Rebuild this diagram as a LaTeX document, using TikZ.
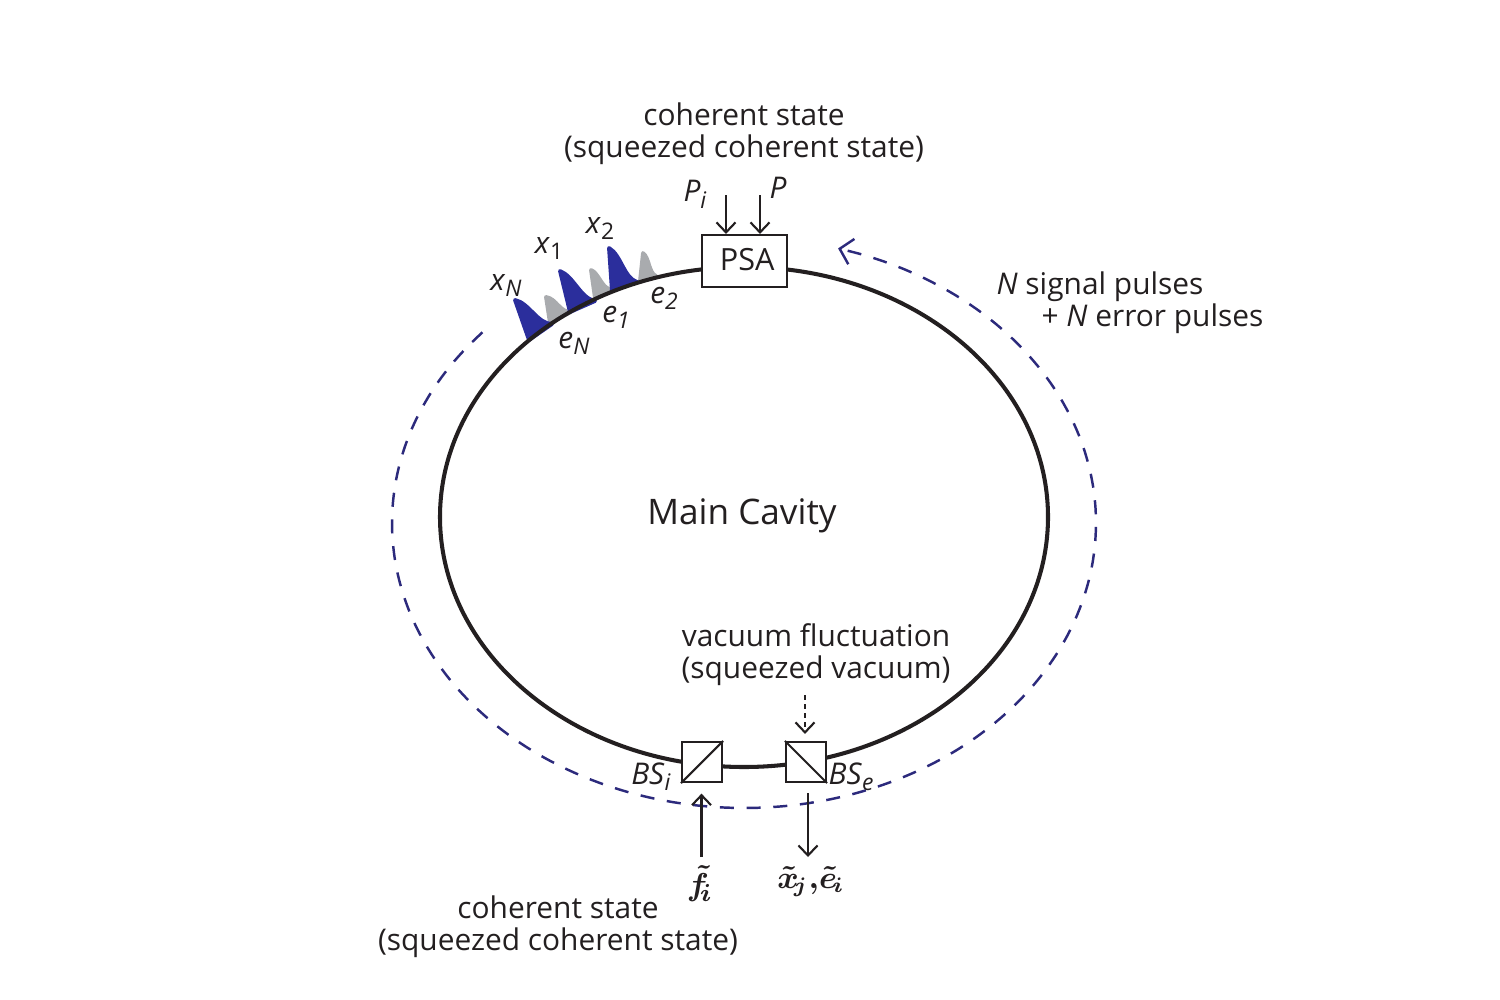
\documentclass[tikz,border=0pt]{standalone}
\usepackage{amsmath}
\usepackage{fontspec}
\setmainfont{Open Sans}
\usetikzlibrary{arrows.meta,calc}
\definecolor{ink}{HTML}{231F20}
\definecolor{navy}{HTML}{2C2A7C}
\definecolor{pulseblue}{HTML}{2B2E9C}
\definecolor{pulsegray}{HTML}{A9ABAE}
\newcommand{\txtsize}{\fontsize{8.5}{9.1}\selectfont}
\newcommand{\lab}[2]{\textit{#1}\raisebox{-0.4ex}{\fontsize{6.5}{7}\selectfont #2}}
\tikzset{
  txt/.style={font=\txtsize, text=ink, align=center, inner sep=0pt, yshift=-1pt},
  boxnode/.style={draw=ink, fill=white, line width=0.6pt, inner sep=0pt},
  thinarrow/.style={->, draw=ink, line width=0.6pt},
}
\begin{document}
\begin{tikzpicture}[x=0.01cm, y=-0.01cm, >={Straight Barb[length=1mm,width=1.9mm]}]
\useasboundingbox (0,0) rectangle (1500,1000);
% pulses on the ring
\foreach \bx/\by/\px/\py/\rx/\ry/\col in {
  550/323/546/297/571/312/pulsegray,
  595/298/591/270/610/289/pulsegray,
  640/281/643/253/656/276/pulsegray,
  529/340/515/300/552/324/pulseblue,
  570/312/560/271/595/301/pulseblue,
  612/291/609/248/637/282/pulseblue} {
  \coordinate (b) at (\bx,\by);
  \coordinate (p) at (\px,\py);
  \coordinate (r) at (\rx,\ry);
  \filldraw[\col, draw=\col, line width=1.1pt, line join=round] (b) -- (p)
    .. controls ($(p)!.45!(r)+0.2*(p)-0.2*(b)$) and ($(p)!.5!(r)+0.3*(b)-0.3*(p)$) .. (r) -- cycle;
}
% ring and pass around direction
\draw[ink, line width=1.15pt] (744,517) ellipse [x radius=304, y radius=250];
\draw[->, navy, line width=0.7pt, dash pattern=on 4pt off 3.6pt, >={Straight Barb[length=1.2mm,width=2.6mm]}]
  plot[smooth, samples=80, domain=222:-74.5] ({744+352*cos(\x)},{523+285*sin(\x)});
% elements
\node[boxnode, minimum width=0.85cm, minimum height=0.52cm, font=\fontsize{8.7}{10}\selectfont, text=ink] (psa) at (744.5,261) {\raisebox{1pt}{\hspace{1.5pt}PSA}};
\node[boxnode, minimum size=0.4cm] (bsi) at (702,762) {};
\node[boxnode, minimum size=0.4cm] (bse) at (806,762) {};
\draw[ink, line width=0.6pt] (bsi.south west) -- (bsi.north east);
\draw[ink, line width=0.6pt] (bse.north west) -- (bse.south east);
% texts
\node[txt] (top) at (744,130) {coherent state\\(squeezed coherent state)};
\node[txt] (low) at (558,923) {coherent state\\(squeezed coherent state)};
\node[txt] (vac) at (816,651) {vacuum fluctuation\\(squeezed vacuum)};
\node[txt, align=left] (npulses) at (1130,299) {\textit{N} signal pulses\\\hspace*{0.45cm}+ \textit{N} error pulses};
\node[txt, font=\fontsize{10}{12}\selectfont] (cavity) at (742,512) {Main Cavity};
\foreach \name/\x/\y/\a/\b in {xn/506/282/x/\textit{N}, xa/549/245/x/1, xb/600/225/x/2, en/574/340/e/\textit{N}, ea/616/314/e/\textit{1}, eb/664/295/e/\textit{2}, pi/695/191/P/\textit{i}, pp/778/188/P/{}, bi/651/773/BS/\textit{i}, be/851/773/BS/\textit{e}}
  \node[txt] (\name) at (\x,\y) {\lab{\a}{\b}};
\node[txt, font=\fontsize{9.5}{12}\selectfont] (fin) at (700,880) {$\boldsymbol{\tilde{f}_{\!i}}$};
\node[txt, font=\fontsize{9}{12}\selectfont] (xout) at (811,878) {$\boldsymbol{\tilde{x}_{\!j},\!\tilde{e}_{\!i}}$};
% arrows
\coordinate (pa) at (726,195);
\coordinate (pb) at (760,195);
\coordinate (va) at (805,695);
\coordinate (fa) at (701.5,857);
\coordinate (oa) at (808,793);
\coordinate (ob) at (808,857);
\draw[thinarrow] (pa) -- (pa |- psa.north);
\draw[thinarrow] (pb) -- (pb |- psa.north);
\draw[thinarrow, dash pattern=on 1.3pt off 1.3pt] (va) -- ([yshift=2pt]va |- bse.north);
\draw[thinarrow] (fa) -- ([yshift=-3pt]fa |- bsi.south);
\draw[thinarrow] (oa) -- (ob);
\end{tikzpicture}
\end{document}
